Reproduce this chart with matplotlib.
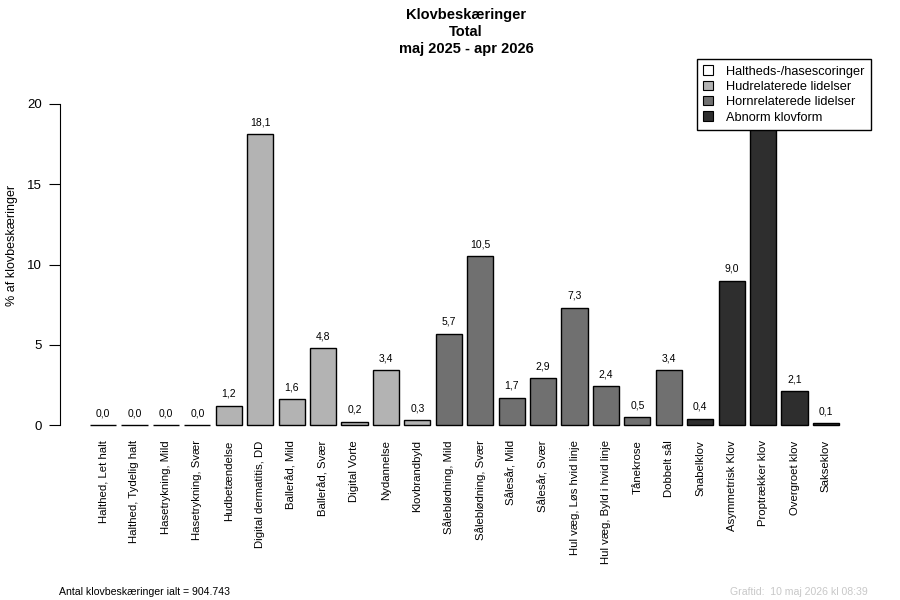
import matplotlib.pyplot as plt
import matplotlib.transforms as mtransforms
import numpy as np

plt.rcParams['font.family'] = ['Liberation Sans', 'DejaVu Sans']

labels = ['Halthed, Let halt', 'Halthed, Tydelig halt', 'Hasetrykning, Mild',
          'Hasetrykning, Svær', 'Hudbetændelse', 'Digital dermatitis, DD',
          'Balleråd, Mild', 'Balleråd, Svær', 'Digital Vorte', 'Nydannelse',
          'Klovbrandbyld', 'Såleblødning, Mild', 'Såleblødning, Svær',
          'Sålesår, Mild', 'Sålesår, Svær', 'Hul væg, Løs hvid linje',
          'Hul væg, Byld i hvid linje', 'Tånekrose', 'Dobbelt sål',
          'Snabelklov', 'Asymmetrisk Klov', 'Proptrækker klov',
          'Overgroet klov', 'Sakseklov']
values = [0.0, 0.0, 0.0, 0.0, 1.2, 18.1, 1.6, 4.8, 0.2, 3.4, 0.3, 5.7, 10.5,
          1.7, 2.9, 7.3, 2.4, 0.5, 3.4, 0.4, 9.0, 24.4, 2.1, 0.1]
groups = [0] * 4 + [1] * 7 + [2] * 8 + [3] * 5
group_names = ['Haltheds-/hasescoringer', 'Hudrelaterede lidelser',
               'Hornrelaterede lidelser', 'Abnorm klovform']
group_colors = ['#ffffff', '#b3b3b3', '#707070', '#2e2e2e']

ymax = 20

# R barplot style positions: width 1, space 0.2
x = 0.7 + 1.2 * np.arange(len(values))

fig = plt.figure(figsize=(9, 6), dpi=100)
ax = fig.add_axes([60 / 900, 175 / 600, 809 / 900, 321 / 600])
ax.set_xlim(-0.944, 29.944)
ax.set_ylim(0, ymax)

cols = [group_colors[g] for g in groups]
bars = ax.bar(x, values, width=1.0, color=cols, edgecolor='black', linewidth=1.0)
# clip only at the top so the bottom edges (and zero bars) stay visible
clip = mtransforms.TransformedBbox(
    mtransforms.Bbox([[-0.944, -1], [29.944, ymax]]), ax.transData)
for b in bars:
    b.set_clip_box(clip)

for xi, v in zip(x, values):
    ax.annotate(f'{v:.1f}'.replace('.', ','), (xi, v), xytext=(0, 5),
                textcoords='offset points', ha='center', va='bottom',
                fontsize=7.5, annotation_clip=True, clip_on=True)

ax.set_yticks([0, 5, 10, 15, 20])
ax.tick_params(axis='y', length=8, labelsize=9.5, direction='out', pad=5)
ax.set_xticks(x)
ax.set_xticklabels(labels, rotation=90, fontsize=8.2)
ax.tick_params(axis='x', length=0, pad=11)
for s in ['top', 'right', 'bottom']:
    ax.spines[s].set_visible(False)
ax.spines['left'].set_bounds(0, ymax)
fig.text(12 / 900, 1 - 245 / 600, '% af klovbeskæringer', rotation=90,
         ha='center', va='center', fontsize=9)

fig.text(466 / 900, 1 - 8 / 600, 'Klovbeskæringer\nTotal\nmaj 2025 - apr 2026',
         ha='center', va='top', fontsize=10.5, fontweight='bold', linespacing=1.25)

handles = [plt.Rectangle((0, 0), 1, 1, facecolor=c, edgecolor='black', linewidth=0.8)
           for c in group_colors]
leg = fig.legend(handles, group_names, loc='upper left',
                 bbox_to_anchor=(697 / 900, 1 - 59 / 600), fontsize=9.2,
                 frameon=True, fancybox=False, framealpha=1, edgecolor='black',
                 handlelength=0.75, handleheight=0.75, handletextpad=1.0,
                 labelspacing=0.25, borderpad=0.5, borderaxespad=0)
leg.get_frame().set_linewidth(1.0)

fig.text(59 / 900, 1 - 592 / 600, 'Antal klovbeskæringer ialt = 904.743',
         ha='left', va='center', fontsize=7.6)
fig.text(868 / 900, 1 - 592 / 600, 'Graftid:  10 maj 2026 kl 08:39',
         ha='right', va='center', fontsize=7.6, color='#c8c8c8')

fig.savefig('out.png', dpi=100)
